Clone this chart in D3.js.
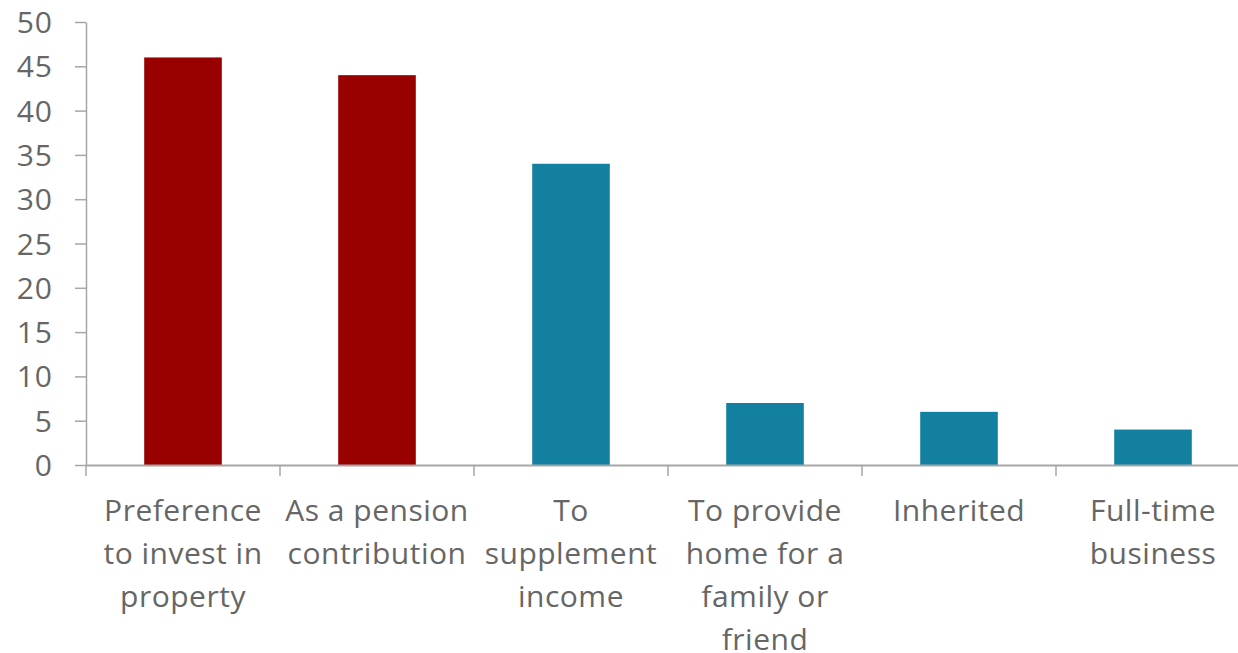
<!DOCTYPE html>
<html><head><meta charset="utf-8">
<script src="https://cdn.jsdelivr.net/npm/d3@7"></script>
<style>body{margin:0;background:#fff;} text{font-family:"Open Sans",sans-serif;}</style>
</head><body><svg id="c" width="1238" height="653"></svg>
<script>
const categories = ["Preference to invest in property","As a pension contribution","To supplement income","To provide home for a family or friend","Inherited","Full-time business"];
const labelLines = [["Preference","to invest in","property"],["As a pension","contribution"],["To","supplement","income"],["To provide","home for a","family or","friend"],["Inherited"],["Full-time","business"]];
const values = [46,44,34,7,6,4];
const colors = ["#990000","#990000","#1380A1","#1380A1","#1380A1","#1380A1"];
const yTicks = [0,5,10,15,20,25,30,35,40,45,50];

const svg = d3.select("#c");
const x = d3.scaleBand().domain(categories).range([86,1250]).padding(0);
const y = d3.scaleLinear().domain([0,50]).range([465,22]);
const axisColor = "#a6a6a6", textColor = "#666666";

const yAx = svg.append("g").attr("transform","translate(86,0)")
  .call(d3.axisLeft(y).tickValues(yTicks).tickSize(11).tickPadding(22).tickSizeOuter(0));
yAx.select(".domain").attr("stroke",axisColor).attr("stroke-width",1.5);
yAx.selectAll(".tick line").attr("stroke",axisColor).attr("stroke-width",1.5);
yAx.selectAll(".tick text").attr("fill",textColor).style("font-size","30px").style("font-family","Open Sans").style("letter-spacing","1px").attr("dy","0.35em");

const bw = x.bandwidth()*0.4;
svg.selectAll("rect.bar").data(values).join("rect").attr("class","bar")
  .attr("x",(d,i)=>x(categories[i])+x.bandwidth()/2-bw/2)
  .attr("width",bw).attr("y",d=>y(d)).attr("height",d=>y(0)-y(d))
  .attr("fill",(d,i)=>colors[i]);

const xAx = svg.append("g").attr("transform","translate(0,465)")
  .call(d3.axisBottom(x).tickSize(0).tickFormat(""));
xAx.select(".domain").attr("stroke",axisColor).attr("stroke-width",2);
const bounds = categories.map(c=>x(c)).concat([x.range()[1]]);
svg.selectAll("line.bt").data(bounds).join("line").attr("class","bt")
  .attr("x1",d=>d).attr("x2",d=>d).attr("y1",465).attr("y2",476)
  .attr("stroke",axisColor).attr("stroke-width",1.5);

const lab = svg.append("g");
categories.forEach((c,i)=>{
  const t = lab.append("text").attr("text-anchor","middle").attr("fill",textColor)
    .style("font-size","30px").style("letter-spacing","0.5px").attr("x",x(c)+x.bandwidth()/2).attr("y",521);
  labelLines[i].forEach((l,j)=>t.append("tspan").attr("x",x(c)+x.bandwidth()/2).attr("dy",j?43:0).text(l));
});
</script></body></html>
